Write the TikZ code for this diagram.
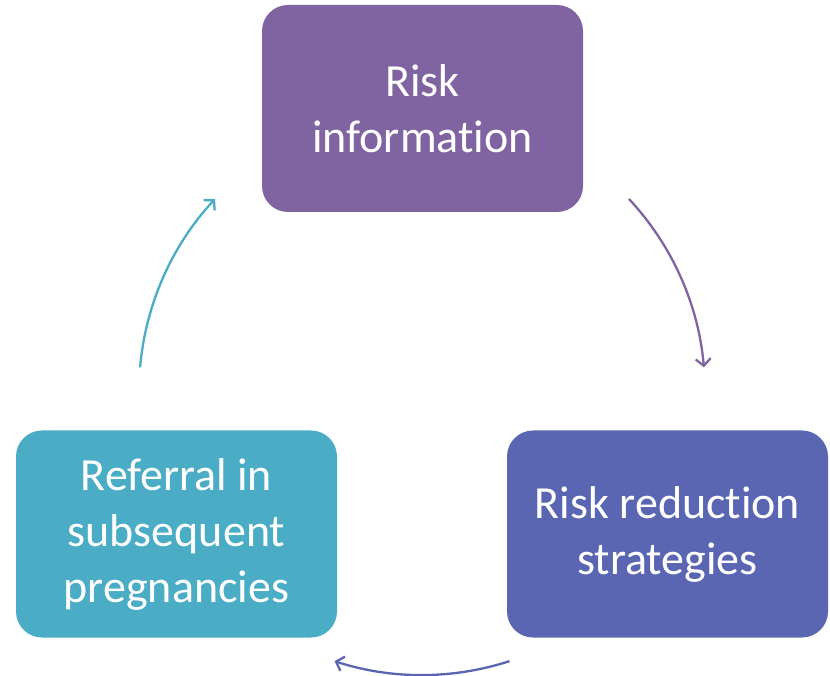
\documentclass[tikz,border=0pt]{standalone}
\usepackage{fontspec}
\setmainfont{Carlito}[Ligatures=NoCommon]
\usetikzlibrary{arrows.meta,calc}
\definecolor{cpurple}{HTML}{8064A2}
\definecolor{cblue}{HTML}{5A66B2}
\definecolor{cteal}{HTML}{4BACC6}
\begin{document}
\begin{tikzpicture}[x=1pt,y=1pt,
  box/.style={rounded corners=26pt, minimum width=321pt, minimum height=207pt, inner sep=0pt,
    text=white, align=center, font=\fontsize{46}{56}\selectfont},
  arc/.style={line width=2.3pt, -{Straight Barb[length=7pt,width=15pt,line width=2.3pt]}}]
\useasboundingbox (0,0) rectangle (830,675);
\node[box, fill=cpurple] (top) at (422.5,566.5) {Risk\\information};
\node[box, fill=cblue] (right) at (667.5,141) {Risk reduction\\strategies};
\node[box, fill=cteal] (left) at (176.5,141) {Referral in\\subsequent\\pregnancies};
\coordinate (c) at (422,283);
\coordinate (s1) at ($(c)+(43:283)$);
\coordinate (s2) at ($(c)+(-72:283)$);
\coordinate (s3) at ($(c)+(175:283)$);
\draw[arc, cpurple] (s1) arc[start angle=43, end angle=5, radius=283];
\draw[arc, cblue] (s2) arc[start angle=-72, end angle=-108, radius=283];
\draw[arc, cteal] (s3) arc[start angle=175, end angle=137, radius=283];
\end{tikzpicture}
\end{document}
